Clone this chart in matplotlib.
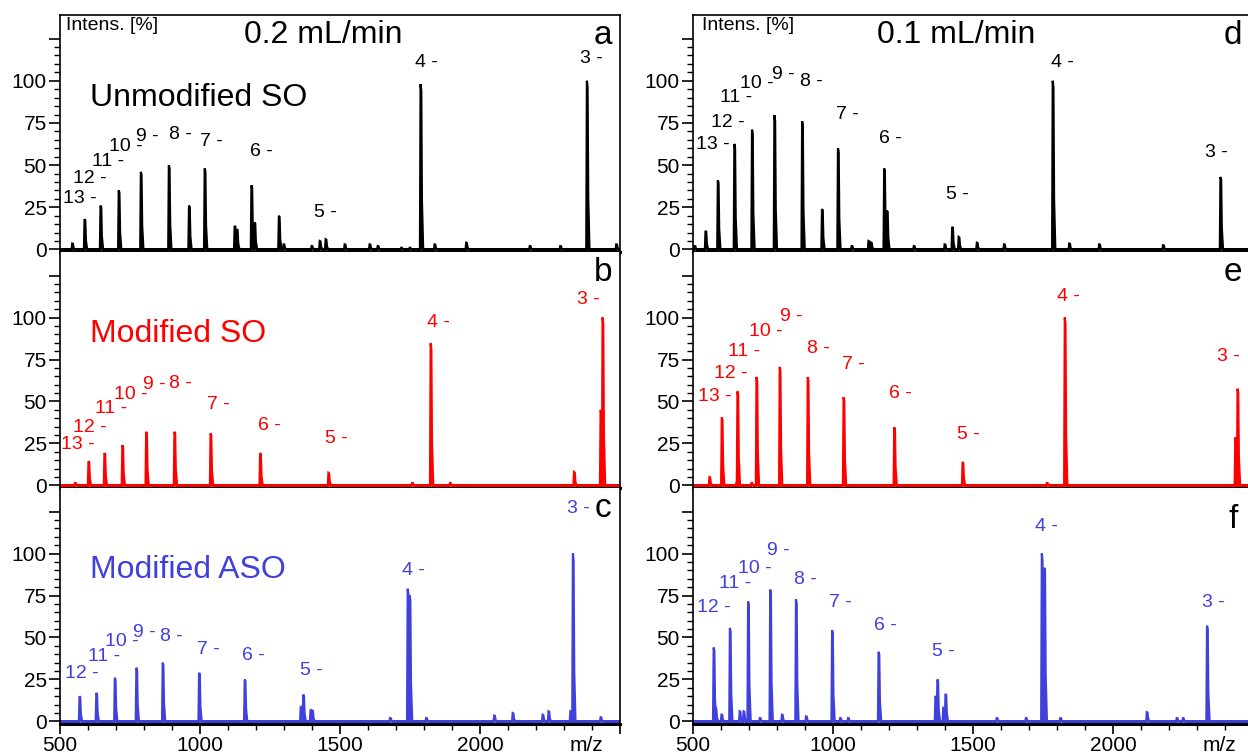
import numpy as np
import matplotlib.pyplot as plt
from matplotlib.ticker import FixedLocator, MultipleLocator
import matplotlib.transforms as mtrans

plt.rcParams['font.family'] = ['Liberation Sans', 'DejaVu Sans']

BLACK = 'black'
RED = '#ff0000'
BLUE = '#4040dc'

# peak lists (m/z, relative intensity %)
a_mz = [545, 589, 646, 711, 790, 890, 962, 1018, 1125, 1133, 1185, 1196, 1283, 1300, 1400, 1429,
        1450, 1518, 1607, 1636, 1720, 1750, 1789, 1839, 1952, 2179, 2288, 2383, 2488]
a_int = [3.5, 18, 26, 35, 46, 50, 26, 48, 14, 12, 38, 16, 20, 3, 2, 5, 6, 3, 3, 2, 1, 1, 98, 3, 4,
         2, 2, 100, 3]

b_mz = [555, 603, 660, 724, 809, 910, 1039, 1216, 1460, 1759, 1825, 1894, 2337, 2432, 2439]
b_int = [1.5, 14.4, 19.3, 24, 32, 32, 31, 19.3, 7.5, 1.5, 84.6, 1.5, 8, 45, 100]

c_mz = [571, 631, 697, 774, 868, 998, 1161, 1361, 1370, 1396, 1402, 1680, 1743, 1750, 1809, 2052,
        2118, 2225, 2246, 2324, 2333, 2432]
c_int = [15, 17, 26, 32, 35, 29, 25, 9, 16, 6.5, 6.5, 2, 79, 75, 2, 3.5, 5, 4, 6, 6, 100, 2.5]

d_mz = [507, 546, 590, 649, 712, 792, 891, 962, 1019, 1068, 1128, 1137, 1184, 1194, 1290, 1400,
        1427, 1450, 1515, 1612, 1786, 1845, 1952, 2180, 2385]
d_int = [2, 11, 41, 62.6, 71, 79.6, 76, 24, 60, 2, 5, 4, 48, 23, 2, 3, 13.4, 7.4, 4, 3, 100, 3.5,
         3, 2.5, 43]

e_mz = [560, 604, 657, 660, 710, 728, 811, 911, 1039, 1220, 1464, 1765, 1829, 2438, 2446]
e_int = [5, 40.6, 1.5, 56, 1.5, 64.6, 70.6, 64.6, 52.6, 34.6, 14, 1.5, 100, 28.6, 57.6]

f_mz = [575, 582, 603, 633, 668, 682, 698, 740, 777, 819, 869, 905, 998, 1027, 1055, 1164, 1367,
        1374, 1395, 1403, 1586, 1690, 1747, 1756, 1813, 2122, 2229, 2251, 2337]
f_int = [44, 8, 4, 55.7, 6, 6, 71.5, 2, 78.5, 4, 72.7, 3, 54.3, 2, 2, 41.5, 15.2, 25, 8, 16.4, 2,
         2, 100, 91.5, 2, 5.5, 2, 2, 57]

# charge state labels
z13 = ['13 -', '12 -', '11 -', '10 -', '9 -', '8 -', '7 -', '6 -', '5 -', '4 -', '3 -']
z12 = z13[1:]

a_lab_mz = [571, 607, 671, 736, 811, 929, 1039, 1218, 1446, 1807, 2396]
a_lab_y = [30, 42, 52, 61, 67, 68, 64, 58, 22, 111, 113]
b_lab_mz = [565, 607, 684, 753, 837, 931, 1065, 1247, 1488, 1851, 2388]
b_lab_y = [24.3, 34.5, 46, 54, 60, 61, 48, 35.5, 28, 97, 111]
c_lab_mz = [579, 656, 719, 802, 897, 1031, 1189, 1396, 1761, 2353]
c_lab_y = [28.7, 38.6, 47.6, 53, 50.6, 42.6, 39.2, 30.3, 90, 127]
d_lab_mz = [570, 624, 653, 728, 821, 921, 1050, 1204, 1443, 1819, 2370]
d_lab_y = [62, 75.4, 90, 98.4, 104, 99.6, 80, 66, 32.6, 111, 57.4]
e_lab_mz = [577, 636, 683, 760, 852, 946, 1071, 1241, 1485, 1841, 2413]
e_lab_y = [53, 66.6, 79.6, 91.6, 100.6, 81.6, 72, 55, 30.6, 112.6, 76.6]
f_lab_mz = [573, 651, 721, 806, 902, 1025, 1186, 1395, 1761, 2360]
f_lab_y = [67.6, 82.4, 91, 101.8, 84.6, 70.6, 57.3, 41.5, 116, 71]

panels = [
    # letter, letter height, mz, int, labels, label x, label y, colour, sample name, column, row
    ('a', 127, a_mz, a_int, z13, a_lab_mz, a_lab_y, BLACK, 'Unmodified SO', 0, 0),
    ('b', 127, b_mz, b_int, z13, b_lab_mz, b_lab_y, RED, 'Modified SO', 0, 1),
    ('c', 127, c_mz, c_int, z12, c_lab_mz, c_lab_y, BLUE, 'Modified ASO', 0, 2),
    ('d', 127, d_mz, d_int, z13, d_lab_mz, d_lab_y, BLACK, None, 1, 0),
    ('e', 127, e_mz, e_int, z13, e_lab_mz, e_lab_y, RED, None, 1, 1),
    ('f', 120, f_mz, f_int, z12, f_lab_mz, f_lab_y, BLUE, None, 1, 2),
]
flow = ['0.2 mL/min', '0.1 mL/min']


def spectrum(mz, inten):
    xs, ys = [500], [0]
    for m, h in sorted(zip(mz, inten)):
        xs += [m - 3.5, m - 1.2, m + 1.2, m + 3.5, m + 8]
        ys += [0, h, h * 0.96, h * 0.3, 0]
    xs.append(2500)
    ys.append(0)
    return xs, ys


W, H = 1248, 756
fig = plt.figure(figsize=(W / 100, H / 100), dpi=100)

col_left = [60, 693]
col_w = 560
row_top = [15, 252, 488]
row_h = [237, 236, 236]

for letter, let_y, mz, inten, labs, lx, ly, col, name, ci, ri in panels:
    ax = fig.add_axes([col_left[ci] / W, (H - row_top[ri] - row_h[ri]) / H,
                       col_w / W, row_h[ri] / H])
    xs, ys = spectrum(mz, inten)
    ax.fill(xs, ys, color=col, lw=1.6)
    ax.axhline(0, color=col, lw=1.4)
    ax.set_xlim(500, 2500)
    ax.set_ylim(-1.5, 139)

    for t, x, y in zip(labs, lx, ly):
        ax.text(x, y, t, color=col, fontsize=14, ha='center', va='center')

    ax.text(2440 if ci == 0 else 2428, let_y, letter, fontsize=24, ha='center', va='center')
    if name:
        ax.text(608, 90, name, color=col, fontsize=23, ha='left', va='center')
    if ri == 0:
        ax.text(1440, 127, flow[ci], fontsize=23, ha='center', va='center')
        ax.text(521 if ci == 0 else 531, 133, 'Intens. [%]', fontsize=14, ha='left', va='center')

    ax.set_yticks([0, 25, 50, 75, 100, 125])
    ax.set_yticklabels(['0', '25', '50', '75', '100', ''])
    ax.yaxis.set_minor_locator(FixedLocator(np.arange(0, 126, 5)))
    ax.tick_params(axis='y', which='major', direction='out', length=8, width=1.2,
                   labelsize=15, pad=1.5)
    ax.tick_params(axis='y', which='minor', direction='out', length=4.5, width=1.0)

    for s in ['left', 'right', 'top']:
        ax.spines[s].set_linewidth(1.2)
    ax.spines['bottom'].set_linewidth(2.2)
    if ri != 0:
        ax.spines['top'].set_visible(False)

    if ri == 2:
        ax.set_xticks([500, 1000, 1500, 2000, 2500])
        ax.set_xticklabels(['500', '1000', '1500', '2000', ''])
        ax.xaxis.set_minor_locator(MultipleLocator(100))
        ax.tick_params(axis='x', which='major', direction='out', length=7, width=1.2,
                       labelsize=15, pad=1.5)
        ax.tick_params(axis='x', which='minor', direction='out', length=4, width=1.0)
        tr = mtrans.blended_transform_factory(ax.transData, ax.transAxes)
        ax.text(2381, -0.049, 'm/z', transform=tr, fontsize=15, ha='center', va='top')
    else:
        ax.tick_params(axis='x', which='both', bottom=False, labelbottom=False)

fig.savefig('out.png', dpi=100)
